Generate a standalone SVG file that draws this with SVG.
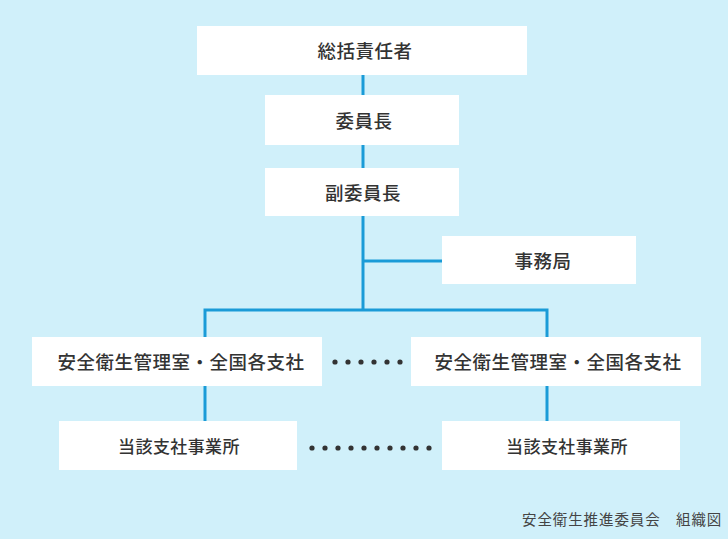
<svg xmlns="http://www.w3.org/2000/svg" width="728" height="539" viewBox="0 0 728 539">
<style>
.box{fill:#ffffff}
.t{font-family:"Noto Sans CJK JP","Noto Sans CJK SC",sans-serif;font-size:18.5px;font-weight:500;fill:#333333;text-anchor:middle;dominant-baseline:central;letter-spacing:0.5px}
.s{font-size:17px;letter-spacing:0.4px}
.c{font-family:"Noto Sans CJK JP","Noto Sans CJK SC",sans-serif;font-size:14.5px;fill:#444444;letter-spacing:0.9px}
.ln{stroke:#1a9bd7;stroke-width:3;fill:none}
.dot{fill:#333333}
</style>
<rect width="728" height="539" fill="#d0f0fa"/>
<g id="connectors">
<path class="ln" d="M363 74V95M363 145V168M363 216V310M363 261H442M205 337V310H547V337M205 386V421M547 386V421"/>
</g>
<g id="n1"><rect class="box" x="197" y="26" width="330" height="49"/><text class="t" x="365" y="50">総括責任者</text></g>
<g id="n2"><rect class="box" x="265" y="95" width="194" height="50"/><text class="t" x="364" y="120">委員長</text></g>
<g id="n3"><rect class="box" x="265" y="168" width="194" height="48"/><text class="t" x="363" y="192">副委員長</text></g>
<g id="n4"><rect class="box" x="442" y="236" width="194" height="48"/><text class="t" x="543" y="260">事務局</text></g>
<g id="n5"><rect class="box" x="32" y="337" width="290" height="49"/><text class="t" x="181" y="361">安全衛生管理室・全国各支社</text></g>
<g id="n6"><rect class="box" x="411" y="337" width="290" height="49"/><text class="t" x="558" y="361">安全衛生管理室・全国各支社</text></g>
<g id="n7"><rect class="box" x="59" y="421" width="238" height="49"/><text class="t s" x="179" y="445">当該支社事業所</text></g>
<g id="n8"><rect class="box" x="442" y="421" width="238" height="49"/><text class="t s" x="567" y="445">当該支社事業所</text></g>
<g id="dots1">
<circle class="dot" cx="335" cy="362" r="2.6"/><circle class="dot" cx="348" cy="362" r="2.6"/><circle class="dot" cx="361" cy="362" r="2.6"/><circle class="dot" cx="374" cy="362" r="2.6"/><circle class="dot" cx="387" cy="362" r="2.6"/><circle class="dot" cx="400" cy="362" r="2.6"/>
</g>
<g id="dots2">
<circle class="dot" cx="312" cy="448" r="2.6"/><circle class="dot" cx="325" cy="448" r="2.6"/><circle class="dot" cx="338" cy="448" r="2.6"/><circle class="dot" cx="351" cy="448" r="2.6"/><circle class="dot" cx="364" cy="448" r="2.6"/><circle class="dot" cx="377" cy="448" r="2.6"/><circle class="dot" cx="390" cy="448" r="2.6"/><circle class="dot" cx="403" cy="448" r="2.6"/><circle class="dot" cx="416" cy="448" r="2.6"/><circle class="dot" cx="429" cy="448" r="2.6"/>
</g>
<text class="c" x="522" y="525">安全衛生推進委員会　組織図</text>
</svg>
